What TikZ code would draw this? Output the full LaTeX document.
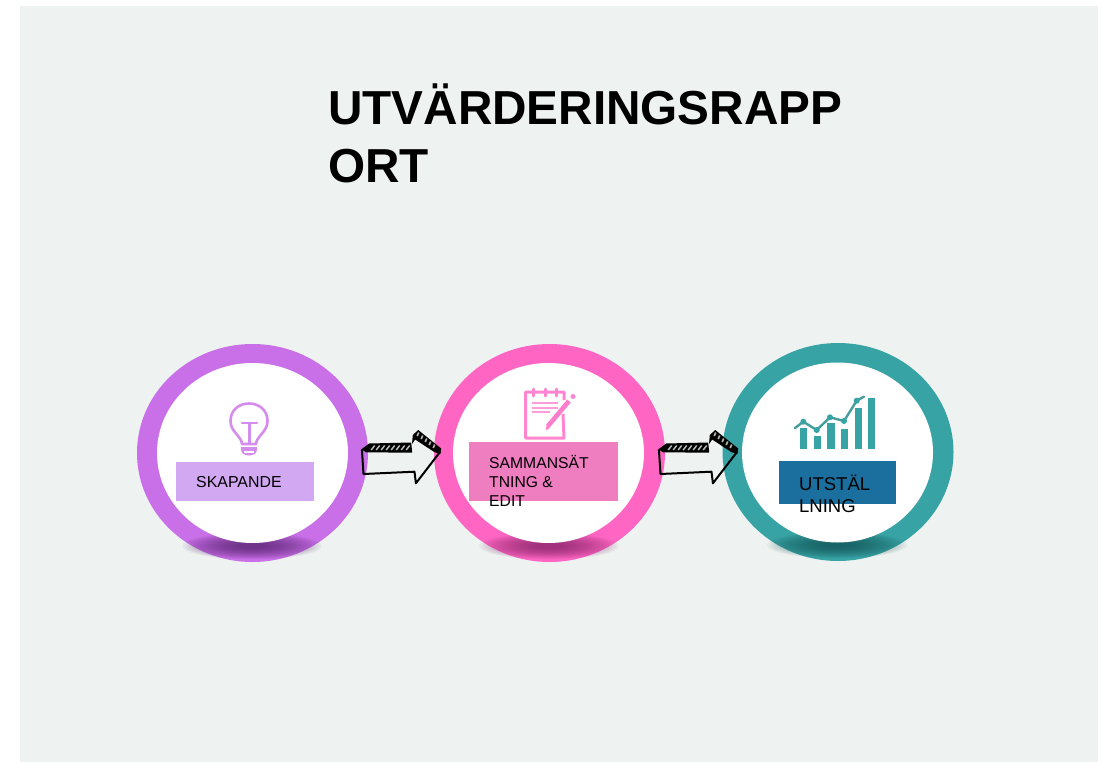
\documentclass[tikz,border=0pt]{standalone}
\usepackage{fontspec}
\setmainfont{Liberation Sans}
\usetikzlibrary{shapes.geometric,calc}
\definecolor{pagebg}{HTML}{EEF2F1}
\definecolor{ringpurple}{HTML}{C96FE8}
\definecolor{ringpink}{HTML}{FF66C4}
\definecolor{ringteal}{HTML}{38A3A5}
\definecolor{boxpurple}{HTML}{D3A8F3}
\definecolor{boxpink}{HTML}{EF7EC1}
\definecolor{boxblue}{HTML}{1A6F9F}
\definecolor{shpurple}{HTML}{4E1F66}
\definecolor{shpink}{HTML}{7E2062}
\definecolor{shteal}{HTML}{124F50}
\definecolor{hatchgrey}{HTML}{B8B8B8}
\tikzset{
  ring/.style={ellipse,inner sep=0pt,minimum width=231pt,minimum height=218pt,fill=#1},
  disc/.style={ellipse,inner sep=0pt,minimum width=191pt,minimum height=180pt,fill=white},
  labelbox/.style={inner sep=0pt,fill=#1},
  lab/.style={inner sep=0pt,anchor=base west,align=left,text=black},
  titletext/.style={inner sep=0pt,anchor=base west,font=\bfseries\fontsize{47.7}{58}\selectfont},
  icon/.style={draw=#1,line width=2.6pt,line cap=round,line join=round},
  pics/sketcharrow/.style={code={
    \draw[black,line width=2pt,line join=round]
      (-6.3,-3.7) -- (-4.7,21) -- (46.3,18.7) -- (47.7,30.3) -- (72,-1.3);
    \fill[black] (-6.8,-3.7) -- (1,-9.5) -- (43,-10.5) -- (44,-0.4) -- (-2,-0.6) -- cycle;
    \foreach \hx in {3,8,...,38}
      \draw[hatchgrey,line width=1.5pt] (\hx,-3) -- (\hx+3.5,-7.5);
    \fill[black] (43.8,-9) -- (44.6,-18) -- (50,-23) -- (73,-4.5) -- (72,1) -- (66,-1) -- (47,-13.5) -- cycle;
    \foreach \hx/\hy in {49/-17,53/-14,57/-11,61/-8,65/-5}
      \draw[hatchgrey,line width=1.6pt] (\hx,\hy) -- (\hx+1.5,\hy-3.5);
  }}
}
\newcommand{\softshadow}[3]{%
  \foreach \r in {70,67,...,13}{%
    \fill[#3,opacity=.055] (#1,#2) ellipse [x radius=\r pt,y radius=.19*\r pt];
  }%
}
\begin{document}
\begin{tikzpicture}[x=1pt,y=-1pt]
\useasboundingbox (0,0) rectangle (1102,762);
\fill[white] (0,0) rectangle (1102,762);
\fill[pagebg] (20,6) rectangle (1098,762);

% title
\node[titletext] (title) at (328,124.5) {UTVÄRDERINGSRAPP};
\node[titletext] (title2) at (328,182.5) {ORT};

% rings
\node[ring=ringpurple] (ringA) at (252.5,453) {};
\node[ring=ringpink] (ringB) at (549.5,453) {};
\node[ring=ringteal] (ringC) at (838,452) {};

\softshadow{252}{546}{shpurple}
\softshadow{549}{546}{shpink}
\softshadow{837}{545}{shteal}

\node[disc] (discA) at (252.5,453) {};
\node[disc] (discB) at (548.5,453) {};
\node[disc] (discC) at (837.5,452.5) {};

% arrows
\path (ringA.east) pic {sketcharrow};
\path (ringB.east) pic {sketcharrow};

% bulb icon
\draw[icon=ringpurple!80!white]
  (242,444) .. controls (241.5,436) and (230.5,432) .. (230.5,421)
  .. controls (230.5,410) and (239,403.5) .. (249,403.5)
  .. controls (259,403.5) and (267.5,410) .. (267.5,421)
  .. controls (267.5,432) and (256.5,436) .. (256,444) -- cycle;
\draw[icon=ringpurple!80!white] (242,423) -- (257,423) (249.3,423) -- (249.3,443);
\fill[ringpurple!80!white] (241,447) -- (257,447) -- (257,449) .. controls (257,453) and (254,455.5) .. (249,455.5) .. controls (244,455.5) and (241,453) .. (241,449) -- cycle;
\fill[white] (244,450.5) rectangle (254,452.5);

% note icon
\draw[icon=ringpink!80!white,line width=3pt,line cap=butt] (563,414) -- (564,438) -- (525.5,438) -- (525.5,392) -- (564,392) -- (564,400);
\draw[icon=ringpink!80!white,line width=3pt] (533.5,389) -- (533.5,396) (545,389) -- (545,396) (556.5,389) -- (556.5,396);
\draw[icon=ringpink!65!white,line width=2pt,line cap=butt] (532,403) -- (558,403) (532,407.5) -- (558,407.5) (532,412) -- (550,412);
\draw[ringpink!85!white,line width=4.6pt] (548,426) -- (569,401);
\fill[ringpink!85!white] (546.5,424.5) -- (550,428) -- (546,430) -- cycle;
\fill[ringpink!80!white] (573,396.5) circle (2.5pt);

% chart icon
\foreach \xa/\xb/\ytop in {800/807.3/428.3,814/820.7/436,827.3/834.7/423.3,841/848.3/429.3,855/861.7/408.3,867.7/875/398.3}
  \fill[ringteal] (\xa,\ytop) rectangle (\xb,449);
\draw[ringteal!80!gray,line width=2.4pt,line join=round,line cap=round]
  (795,428) -- (803.3,421.7) -- (816.7,430) -- (830,417.3) -- (844,421) -- (856.7,400.7) -- (864,396.7);
\foreach \px/\py in {803.3/421.7,816.7/430,830/417.3,844/421,856.7/400.7}
  \fill[ringteal] (\px,\py) circle (3pt);

% label boxes
\node[labelbox=boxpurple,minimum width=138pt,minimum height=39pt] (boxA) at (245,481.5) {};
\node[labelbox=boxpink,minimum width=149pt,minimum height=59pt] (boxB) at (543.5,471.5) {};
\node[labelbox=boxblue,minimum width=117pt,minimum height=43pt] (boxC) at (837.5,482.5) {};

% labels
\node[lab,font=\fontsize{15.9}{19}\selectfont] (labA) at (196,487) {SKAPANDE};
\node[lab,font=\fontsize{15.7}{19}\selectfont] (labB1) at (489,468) {SAMMANSÄT};
\node[lab,font=\fontsize{15.7}{19}\selectfont] (labB2) at (489,487) {TNING \&};
\node[lab,font=\fontsize{15.7}{19}\selectfont] (labB3) at (489,506) {EDIT};
\node[lab,font=\fontsize{18.5}{22}\selectfont] (labC1) at (799,490) {UTSTÄL};
\node[lab,font=\fontsize{18.5}{22}\selectfont] (labC2) at (799,512) {LNING};
\end{tikzpicture}
\end{document}
